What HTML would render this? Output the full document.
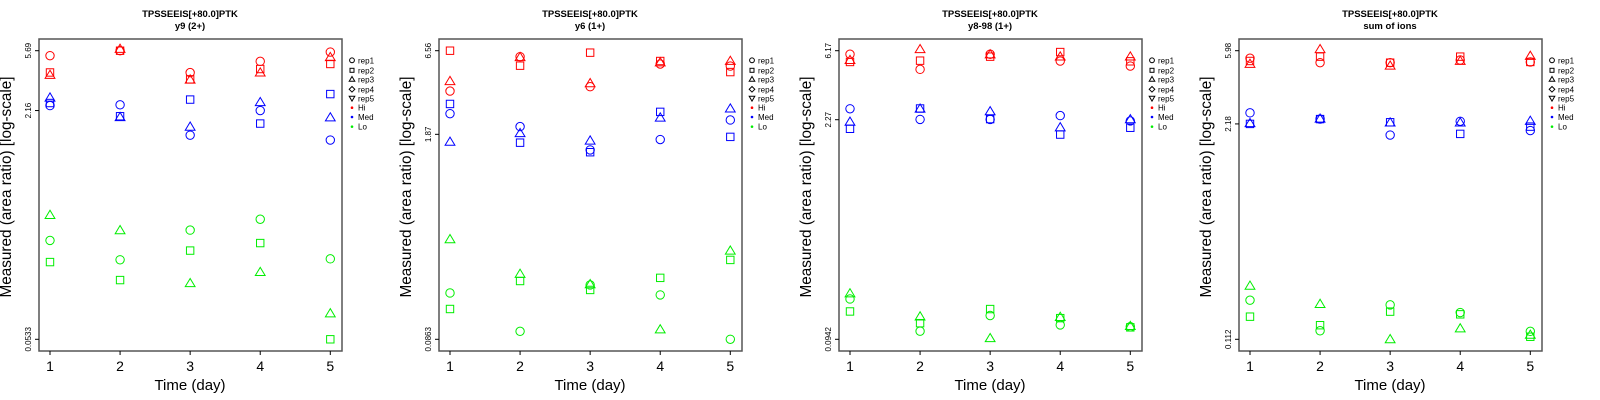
<!DOCTYPE html>
<html><head><meta charset="utf-8">
<style>
html,body{margin:0;padding:0;background:#fff;}
svg{display:block;font-family:"Liberation Sans",Arial,sans-serif;}
</style></head>
<body>
<svg id="chart" width="1600" height="400" viewBox="0 0 1600 400" xmlns="http://www.w3.org/2000/svg"></svg>
<script>
// ---- data ----
const days = [1, 2, 3, 4, 5];
const titles = ["y9 (2+)", "y6 (1+)", "y8-98 (1+)", "sum of ions"];
const peptide = "TPSSEEIS[+80.0]PTK";
const yTickLabels = [["5.69","2.16","0.0533"],["6.56","1.87","0.0863"],["6.17","2.27","0.0942"],["5.98","2.18","0.112"]];
const yMax = [5.69, 6.56, 6.17, 5.98];
const yMid = [2.16, 1.87, 2.27, 2.18];
const yMin = [0.0533, 0.0863, 0.0942, 0.112];

// panel 1: y9 (2+)
const p1HiRep1 = [5.25, 5.69, 3.99, 4.79, 5.57];
const p1HiRep2 = [4.0, 5.69, 3.58, 4.23, 4.59];
const p1HiRep3 = [3.84, 5.85, 3.56, 3.99, 5.12];
const p1MedRep1 = [2.34, 2.37, 1.45, 2.16, 1.34];
const p1MedRep2 = [2.44, 1.97, 2.58, 1.75, 2.82];
const p1MedRep3 = [2.66, 1.94, 1.66, 2.47, 1.93];
const p1LoRep1 = [0.264, 0.193, 0.312, 0.372, 0.196];
const p1LoRep2 = [0.186, 0.139, 0.224, 0.253, 0.0533];
const p1LoRep3 = [0.398, 0.311, 0.132, 0.158, 0.081];
// panel 2: y6 (1+)
const p2HiRep1 = [3.58, 6.0, 3.82, 5.37, 5.21];
const p2HiRep2 = [6.56, 5.24, 6.37, 5.62, 4.76];
const p2HiRep3 = [4.15, 5.95, 4.02, 5.5, 5.62];
const p2MedRep1 = [2.55, 2.10, 1.48, 1.73, 2.32];
const p2MedRep2 = [2.95, 1.65, 1.43, 2.62, 1.80];
const p2MedRep3 = [1.67, 1.90, 1.70, 2.40, 2.75];
const p2LoRep1 = [0.173, 0.0973, 0.195, 0.168, 0.0863];
const p2LoRep2 = [0.136, 0.207, 0.181, 0.217, 0.284];
const p2LoRep3 = [0.387, 0.230, 0.197, 0.100, 0.326];
// panel 3: y8-98 (1+)
const p3HiRep1 = [5.86, 4.71, 5.86, 5.31, 4.94];
const p3HiRep2 = [5.24, 5.34, 5.66, 6.05, 5.29];
const p3HiRep3 = [5.38, 6.3, 5.84, 5.66, 5.66];
const p3MedRep1 = [2.66, 2.28, 2.28, 2.41, 2.23];
const p3MedRep2 = [1.99, 2.67, 2.29, 1.83, 2.02];
const p3MedRep3 = [2.20, 2.66, 2.56, 2.03, 2.28];
const p3LoRep1 = [0.169, 0.106, 0.133, 0.116, 0.113];
const p3LoRep2 = [0.141, 0.119, 0.146, 0.128, 0.112];
const p3LoRep3 = [0.183, 0.131, 0.0956, 0.130, 0.114];
// panel 4: sum of ions
const p4HiRep1 = [5.39, 5.07, 5.07, 5.26, 5.12];
const p4HiRep2 = [5.19, 5.51, 5.07, 5.51, 5.12];
const p4HiRep3 = [4.98, 6.1, 4.86, 5.19, 5.56];
const p4MedRep1 = [2.54, 2.33, 1.87, 2.26, 1.99];
const p4MedRep2 = [2.18, 2.33, 2.23, 1.90, 2.10];
const p4MedRep3 = [2.20, 2.34, 2.22, 2.22, 2.27];
const p4LoRep1 = [0.192, 0.126, 0.180, 0.162, 0.125];
const p4LoRep2 = [0.153, 0.136, 0.164, 0.158, 0.116];
const p4LoRep3 = [0.234, 0.182, 0.112, 0.130, 0.119];

const levels = ["Hi", "Med", "Lo"];
const levelColors = ["#ff0000", "#0000ff", "#00ee00"];
const reps = ["rep1", "rep2", "rep3", "rep4", "rep5"];
const panelSeries = [
  [[p1HiRep1,p1HiRep2,p1HiRep3],[p1MedRep1,p1MedRep2,p1MedRep3],[p1LoRep1,p1LoRep2,p1LoRep3]],
  [[p2HiRep1,p2HiRep2,p2HiRep3],[p2MedRep1,p2MedRep2,p2MedRep3],[p2LoRep1,p2LoRep2,p2LoRep3]],
  [[p3HiRep1,p3HiRep2,p3HiRep3],[p3MedRep1,p3MedRep2,p3MedRep3],[p3LoRep1,p3LoRep2,p3LoRep3]],
  [[p4HiRep1,p4HiRep2,p4HiRep3],[p4MedRep1,p4MedRep2,p4MedRep3],[p4LoRep1,p4LoRep2,p4LoRep3]]
];

// ---- drawing ----
const NS = "http://www.w3.org/2000/svg";
const svg = document.getElementById("chart");
function mk(tag, attrs, parent, text) {
  const e = document.createElementNS(NS, tag);
  for (const k in attrs) e.setAttribute(k, attrs[k]);
  if (text !== undefined) e.textContent = text;
  (parent || svg).appendChild(e);
  return e;
}
const BOX_L = 39, BOX_R = 342, BOX_T = 39, BOX_B = 351;
const X1 = 50, X5 = 330.3, Y_TOP = 50.7, Y_BOT = 339.3;

function drawMarker(g, shape, cx, cy, color) {
  let m;
  if (shape === 0) m = mk("circle", {cx: cx, cy: cy, r: 4.2, fill: "none", stroke: color, "stroke-width": 1}, g);
  else if (shape === 1) m = mk("rect", {x: cx - 3.7, y: cy - 3.7, width: 7.4, height: 7.4, fill: "none", stroke: color, "stroke-width": 1}, g);
  else m = mk("polygon", {points: `${cx},${cy - 4.8} ${cx - 4.9},${cy + 3.4} ${cx + 4.9},${cy + 3.4}`, fill: "none", stroke: color, "stroke-width": 1}, g);
  return m;
}

for (let p = 0; p < 4; p++) {
  const ox = p * 400;
  const g = mk("g", {transform: `translate(${ox},0)`});
  
  
  const lmax = Math.log(yMax[p]), lmin = Math.log(yMin[p]);
  const ys = v => Y_TOP + (lmax - Math.log(v)) / (lmax - lmin) * (Y_BOT - Y_TOP);
  const xs = d => X1 + (d - 1) / 4 * (X5 - X1);

  const t1 = mk("text", {x: 190, y: 17, "text-anchor": "middle", "font-size": 9.5, "font-weight": "bold"}, g, peptide);
  
  
  const t2 = mk("text", {x: 190, y: 29, "text-anchor": "middle", "font-size": 9.5, "font-weight": "bold"}, g, titles[p]);
  
  

  const box = mk("rect", {x: BOX_L, y: BOX_T, width: BOX_R - BOX_L, height: BOX_B - BOX_T, fill: "none", stroke: "#555", "stroke-width": 1.5}, g);
  
  

  // x axis
  days.forEach(d => {
    const x = xs(d);
    mk("line", {x1: x, x2: x, y1: BOX_B, y2: BOX_B + 4, stroke: "#000", "stroke-width": 1}, g);
    const tl = mk("text", {x: x, y: 371, "text-anchor": "middle", "font-size": 14}, g, String(d));
    
    
  });
  const xt = mk("text", {x: 190, y: 390, "text-anchor": "middle", "font-size": 15}, g, "Time (day)");
  
  

  // y axis
  const yVals = [yMax[p], yMid[p], yMin[p]];
  yVals.forEach((v, i) => {
    const y = ys(v);
    mk("line", {x1: BOX_L - 4, x2: BOX_L, y1: y, y2: y, stroke: "#000", "stroke-width": 1}, g);
    const tl = mk("text", {x: 0, y: 0, "text-anchor": "middle", "font-size": 8, transform: `translate(31,${y}) rotate(-90)`}, g, yTickLabels[p][i]);
    
    
  });
  const yt = mk("text", {x: 0, y: 0, "text-anchor": "middle", "font-size": 15.3, transform: "translate(11,187) rotate(-90)"}, g, "Measured (area ratio) [log-scale]");
  
  

  // points
  for (let l = 0; l < 3; l++) {
    for (let r = 0; r < 3; r++) {
      const series = panelSeries[p][l][r];
      series.forEach((v, i) => {
        const m = drawMarker(g, r, xs(days[i]), ys(v), levelColors[l]);
        
        
      });
    }
  }

  // legend
  const lg = mk("g", {}, g);
  
  
  const rowsY = [60.3, 70.3, 79.3, 89.3, 98.3, 107.7, 117, 126.7];
  const sx = 352;
  reps.forEach((rp, i) => {
    const y = rowsY[i];
    let s;
    if (i === 0) s = mk("circle", {cx: sx, cy: y, r: 2.4, fill: "none", stroke: "#000", "stroke-width": 1}, lg);
    else if (i === 1) s = mk("rect", {x: sx - 2, y: y - 2, width: 4, height: 4, fill: "none", stroke: "#000", "stroke-width": 1}, lg);
    else if (i === 2) s = mk("polygon", {points: `${sx},${y - 2.8} ${sx - 2.8},${y + 2} ${sx + 2.8},${y + 2}`, fill: "none", stroke: "#000", "stroke-width": 1}, lg);
    else if (i === 3) s = mk("polygon", {points: `${sx},${y - 2.8} ${sx - 2.8},${y} ${sx},${y + 2.8} ${sx + 2.8},${y}`, fill: "none", stroke: "#000", "stroke-width": 1}, lg);
    else s = mk("polygon", {points: `${sx},${y + 2.8} ${sx - 2.8},${y - 2} ${sx + 2.8},${y - 2}`, fill: "none", stroke: "#000", "stroke-width": 1}, lg);
    
    
    const t = mk("text", {x: 358, y: y + 3, "font-size": 8}, lg, rp);
    
    
  });
  levels.forEach((lv, i) => {
    const y = rowsY[5 + i];
    const s = mk("circle", {cx: sx, cy: y, r: 1.3, fill: levelColors[i]}, lg);
    
    
    const t = mk("text", {x: 358, y: y + 3, "font-size": 8}, lg, lv);
    
    
  });
}
</script>
</body></html>
